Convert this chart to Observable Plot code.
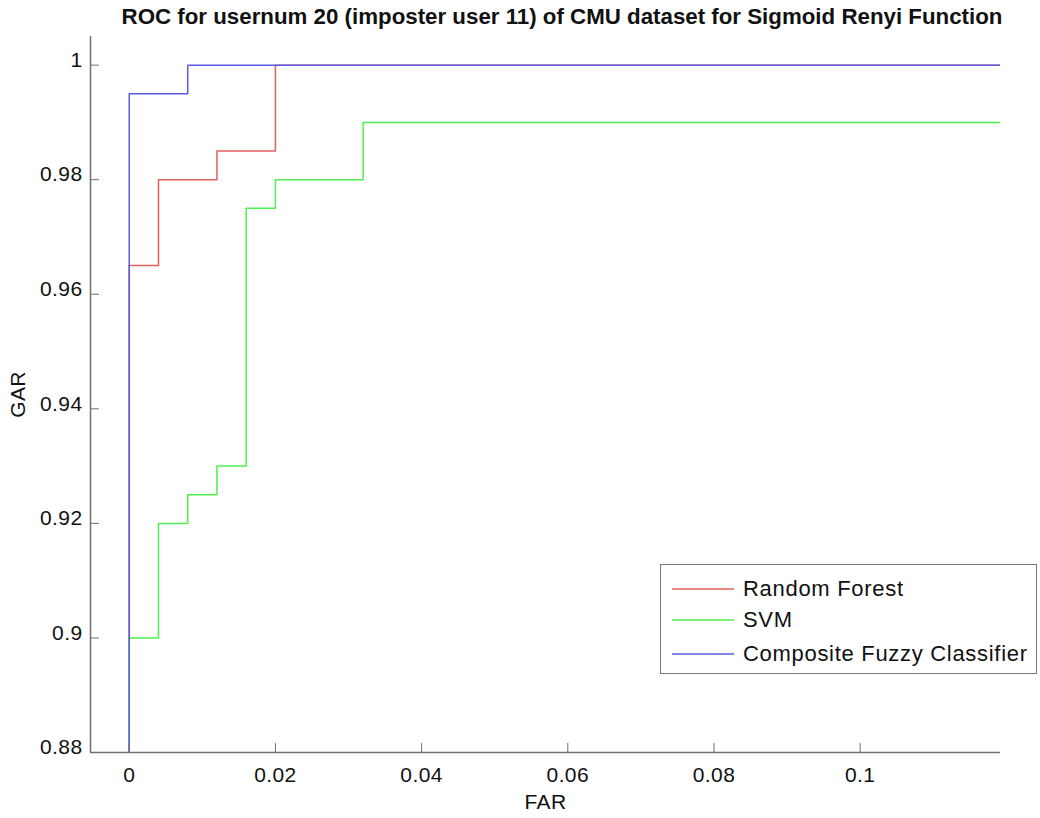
<!DOCTYPE html>
<html>
<head>
<meta charset="utf-8">
<script src="https://cdn.jsdelivr.net/npm/d3@7"></script>
<script src="https://cdn.jsdelivr.net/npm/@observablehq/plot@0.6"></script>
<style>
  body { margin: 0; background: #fff; font-family: "Liberation Sans", Arial, sans-serif; }
  #wrap { position: relative; width: 1040px; height: 818px; }
  #title { position: absolute; left: 0; top: 4px; width: 1124px; text-align: center; font-weight: bold; font-size: 22.3px; color: #111; }
  #chart { position: absolute; left: 0; top: 30px; }
  #chart svg text { letter-spacing: 0.4px; }
  #legend { position: absolute; left: 660px; top: 564px; width: 377px; height: 110px; border: 1px solid #777; background: #fff; box-sizing: border-box; }
  .item { position: absolute; left: 0; height: 30px; font-size: 22px; letter-spacing: 0.7px; color: #111; }
  .item svg { position: absolute; left: 11px; top: 0; }
  .item span { position: absolute; left: 82px; top: 1px; white-space: nowrap; }
</style>
</head>
<body>
<div id="wrap">
  <div id="title">ROC for usernum 20 (imposter user 11) of CMU dataset for Sigmoid Renyi Function</div>
  <div id="chart"></div>
  <div id="legend"></div>
</div>
<script>
// Series names and colours
const seriesNames = ["Random Forest", "SVM", "Composite Fuzzy Classifier"];
const seriesColors = ["#e35f5f", "#4fef4f", "#5b5be4"];

// Random Forest ROC points (FAR, GAR)
const rfFar = [0, 0, 0.004, 0.004, 0.012, 0.012, 0.02, 0.02, 1];
const rfGar = [0.88, 0.965, 0.965, 0.98, 0.98, 0.985, 0.985, 1, 1];

// SVM ROC points
const svmFar = [0, 0, 0.004, 0.004, 0.008, 0.008, 0.012, 0.012, 0.016, 0.016, 0.02, 0.02, 0.032, 0.032, 1];
const svmGar = [0.88, 0.9, 0.9, 0.92, 0.92, 0.925, 0.925, 0.93, 0.93, 0.975, 0.975, 0.98, 0.98, 0.99, 0.99];

// Composite Fuzzy Classifier ROC points
const cfcFar = [0, 0, 0.008, 0.008, 1];
const cfcGar = [0.88, 0.995, 0.995, 1, 1];

// Tick values
const xTicks = [0, 0.02, 0.04, 0.06, 0.08, 0.1];
const yTicks = [0.88, 0.9, 0.92, 0.94, 0.96, 0.98, 1];
const xDomain = [-0.0053, 0.1192];
const yDomain = [0.88, 1.005];

const series = [
  {name: seriesNames[0], far: rfFar, gar: rfGar},
  {name: seriesNames[1], far: svmFar, gar: svmGar},
  {name: seriesNames[2], far: cfcFar, gar: cfcGar}
];
const rows = series.flatMap(s => s.far.map((f, i) => ({series: s.name, far: f, gar: s.gar[i]})));

const fmt = d3.format("~g");
const axisColor = "#707070";

const chart = Plot.plot({
  width: 1040,
  height: 788,
  marginTop: 6,
  marginLeft: 90,
  marginRight: 40,
  marginBottom: 66,
  style: {fontFamily: "'Liberation Sans', Arial, sans-serif", fontSize: "21px", color: "#111", background: "#fff"},
  x: {domain: xDomain},
  y: {domain: yDomain},
  color: {domain: seriesNames, range: seriesColors},
  marks: [
    Plot.line(rows, {x: "far", y: "gar", z: "series", stroke: "series", strokeWidth: 1.5, curve: "linear", clip: true}),
    Plot.ruleX([xDomain[0]], {stroke: axisColor, strokeWidth: 1.5}),
    Plot.ruleY([yDomain[0]], {stroke: axisColor, strokeWidth: 1.5}),
    // inward ticks
    Plot.axisX({ticks: xTicks, tickSize: -9, tickFormat: () => "", stroke: axisColor, label: null}),
    Plot.axisY({ticks: yTicks, tickSize: -9, tickFormat: () => "", stroke: axisColor, label: null}),
    // labels
    Plot.axisX({ticks: xTicks, tickSize: 0, tickPadding: 15, tickFormat: fmt, fontSize: 21,
      label: "FAR", labelAnchor: "center", labelArrow: "none", labelOffset: 56}),
    Plot.axisY({ticks: yTicks, tickSize: 0, tickPadding: 8, dy: -5, tickFormat: fmt, fontSize: 21,
      label: "GAR", labelAnchor: "center", labelArrow: "none", labelOffset: 80})
  ]
});
document.getElementById("chart").appendChild(chart);

// Legend
const legend = document.getElementById("legend");
const tops = [10, 41, 75];
series.forEach((s, i) => {
  const d = document.createElement("div");
  d.className = "item";
  d.style.top = tops[i] + "px";
  d.innerHTML = `<svg width="64" height="30"><line x1="0" x2="62" y1="14" y2="14" stroke="${seriesColors[i]}" stroke-width="1.5"/></svg><span>${s.name}</span>`;
  legend.appendChild(d);
});
</script>
</body>
</html>
